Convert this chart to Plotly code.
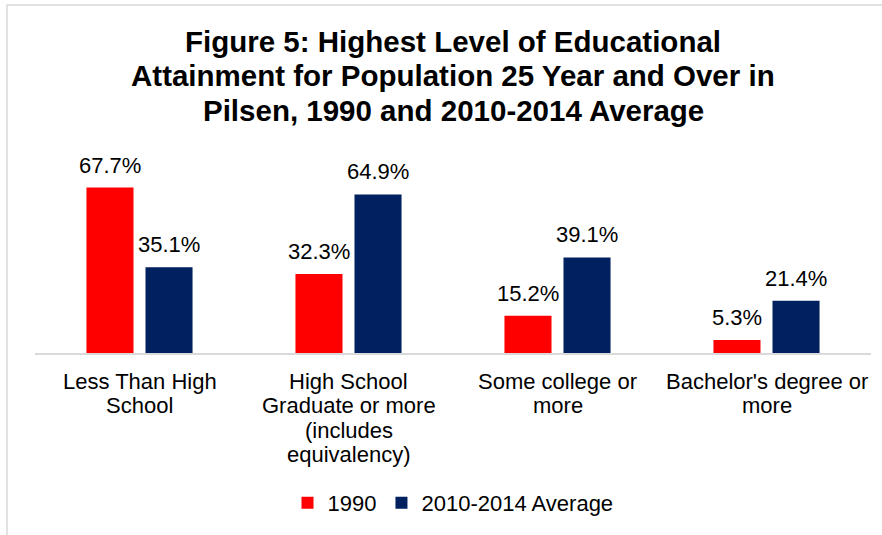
import plotly.graph_objects as go

categories = ["Less Than High School",
              "High School Graduate or more (includes equivalency)",
              "Some college or more",
              "Bachelor's degree or more"]
category_lines = [["Less Than High", "School"],
                  ["High School", "Graduate or more", "(includes", "equivalency)"],
                  ["Some college or", "more"],
                  ["Bachelor's degree or", "more"]]
series_names = ["1990", "2010-2014 Average"]
values_1990 = [67.7, 32.3, 15.2, 5.3]
values_2014 = [35.1, 64.9, 39.1, 21.4]
colors = ["#FF0000", "#002060"]
title_lines = ["Figure 5: Highest Level of Educational",
               "Attainment for Population 25 Year and Over in",
               "Pilsen, 1990 and 2010-2014 Average"]

W, H = 882, 535
ML, MR, MT, MB = 35, 11, 182, 182
YMAX = 70
FONT = "Liberation Sans, Arial, Helvetica"

pw = W - ML - MR
ph = H - MT - MB
def px(x): return (x - ML) / pw
def py(y): return (H - MB - y) / ph

fig = go.Figure()
for name, vals, col in zip(series_names, [values_1990, values_2014], colors):
    fig.add_trace(go.Bar(x=categories, y=vals, name=name,
                         marker=dict(color=col, line=dict(width=0))))

# value labels
for vals, xs in zip([values_1990, values_2014], [-29.5, 29.5]):
    for c, v in zip(categories, vals):
        fig.add_annotation(x=c, y=v, xref="x", yref="y", text=f"{v:.1f}%",
                           showarrow=False, xanchor="center", yanchor="bottom",
                           xshift=xs, yshift=8,
                           font=dict(family=FONT, size=22, color="#000000"))

# category labels, one line each (tight line spacing)
for c, lines in zip(categories, category_lines):
    for j, line in enumerate(lines):
        fig.add_annotation(x=c, y=py(381 + 24.5 * j), xref="x", yref="paper", text=line,
                           showarrow=False, xanchor="center", yanchor="middle",
                           font=dict(family=FONT, size=22, color="#000000"))

# title lines
for line, yc in zip(title_lines, [41, 75.5, 110]):
    fig.add_annotation(x=0.5, y=py(yc), xref="paper", yref="paper", text=f"<b>{line}</b>",
                       showarrow=False, xanchor="center", yanchor="middle",
                       font=dict(family=FONT, size=29.5, color="#000000"))

fig.add_shape(type="rect", xref="paper", yref="paper",
              x0=px(7), x1=px(900), y0=py(5), y1=py(560),
              line=dict(color="#d9d9d9", width=1.5), fillcolor="rgba(0,0,0,0)", layer="below")

fig.update_layout(
    width=W, height=H,
    margin=dict(l=ML, r=MR, t=MT, b=MB, autoexpand=False),
    paper_bgcolor="white", plot_bgcolor="white",
    barmode="group", bargap=0.435, bargroupgap=0.203,
    font=dict(family=FONT, size=22, color="#000000"),
    xaxis=dict(showline=True, linecolor="#d9d9d9", linewidth=2, ticks="",
               showticklabels=False, showgrid=False, automargin=False),
    yaxis=dict(range=[0, YMAX], visible=False, showgrid=False),
    legend=dict(orientation="h", x=0.5, xanchor="center", y=py(503), yanchor="middle",
                font=dict(size=22, color="#000000"), itemwidth=30, traceorder="normal"),
    showlegend=True,
)

fig.write_html("out.html", config={"displayModeBar": False},
               post_script="document.body.style.margin='0';")
